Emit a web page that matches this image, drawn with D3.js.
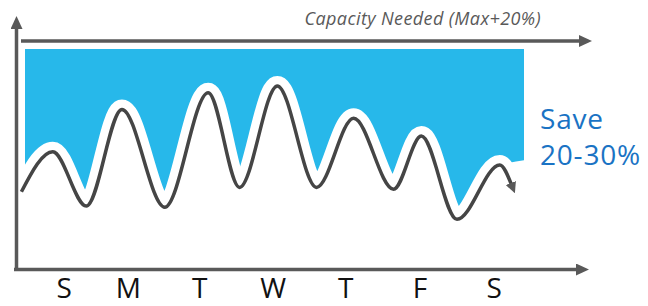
<!DOCTYPE html>
<html>
<head>
<meta charset="utf-8">
<script src="https://cdn.jsdelivr.net/npm/d3@7"></script>
<style>
  html, body { margin: 0; padding: 0; background: #fff; }
  svg { display: block; }
</style>
</head>
<body>
<svg id="chart" width="648" height="306"></svg>
<script>
// days of the week and where each label sits (in days along the time axis)
const dayLabels = ['S', 'M', 'T', 'W', 'T', 'F', 'S'];
const dayTickAt = [0.55, 1.45, 2.45, 3.48, 4.5, 5.54, 6.58];

// load curve: peaks and troughs (t = days, v = % of axis)
const loadT = [-0.05, 0.39, 0.86, 1.36, 1.96, 2.57, 3.01, 3.54, 4.09, 4.61, 5.17, 5.56, 6.06, 6.66, 6.82];
const loadV = [33.9, 51.4, 27.6, 70.0, 27.1, 77.3, 35.8, 80.3, 35.8, 66.1, 35.0, 58.3, 21.8, 45.6, 37.3];

const capacity = 100;
const capacityLabel = 'Capacity Needed (Max+20%)';
const saveLines = ['Save', '20-30%'];

const svg = d3.select('#chart');

const axisColor = '#595959';
const lineColor = '#454545';
const fillColor = '#27b8ea';
const textBlue = '#1a73c4';

const xScale = d3.scaleLinear().domain([0, 7]).range([25, 524]);
const yScale = d3.scaleLinear().domain([0, 100]).range([269, 41]);

const pts = loadT.map((t, i) => ({ t, v: loadV[i] }));

// arrow heads
const defs = svg.append('defs');
function addArrow(id, w, h) {
    defs.append('marker')
        .attr('id', id)
        .attr('markerUnits', 'userSpaceOnUse')
        .attr('viewBox', `0 ${-h / 2} ${w} ${h}`)
        .attr('refX', 1)
        .attr('refY', 0)
        .attr('markerWidth', w)
        .attr('markerHeight', h)
        .attr('orient', 'auto')
        .append('path')
        .attr('d', `M0,${-h / 2}L${w},0L0,${h / 2}Z`)
        .attr('fill', axisColor);
}
addArrow('axisArrow', 13, 12);
addArrow('curveArrow', 11, 11);

defs.append('clipPath')
    .attr('id', 'fillClip')
    .append('rect')
    .attr('x', xScale(0))
    .attr('y', 0)
    .attr('width', xScale(7) - xScale(0))
    .attr('height', 306);

// blue area between the capacity line and the load curve
// (ends flat past the last peak instead of following the arrow down)
const fillPts = pts.slice(0, -1);
const lastPeak = fillPts[fillPts.length - 1];
fillPts.push({ t: 7.3, v: lastPeak.v + 3 });

const area = d3.area()
    .x(d => xScale(d.t))
    .y0(yScale(capacity) + 8)
    .y1(d => yScale(d.v))
    .curve(d3.curveMonotoneX);

svg.append('path')
    .datum(fillPts)
    .attr('clip-path', 'url(#fillClip)')
    .attr('d', area)
    .attr('fill', fillColor);

const line = d3.line()
    .x(d => xScale(d.t))
    .y(d => yScale(d.v))
    .curve(d3.curveMonotoneX);

// white halo under the curve
svg.append('path')
    .datum(pts)
    .attr('d', line)
    .attr('fill', 'none')
    .attr('stroke', '#fff')
    .attr('stroke-width', 20)
    .attr('stroke-linecap', 'round')
    .attr('stroke-linejoin', 'round');

svg.append('path')
    .datum(pts)
    .attr('d', line)
    .attr('fill', 'none')
    .attr('stroke', lineColor)
    .attr('stroke-width', 3.5)
    .attr('marker-end', 'url(#curveArrow)');

// axes
svg.append('line')
    .attr('x1', 16.5).attr('y1', 270.5)
    .attr('x2', 16.5).attr('y2', 28)
    .attr('stroke', axisColor)
    .attr('stroke-width', 3.5)
    .attr('marker-end', 'url(#axisArrow)');

svg.append('line')
    .attr('x1', 14).attr('y1', yScale(0) + 0.5)
    .attr('x2', 577).attr('y2', yScale(0) + 0.5)
    .attr('stroke', axisColor)
    .attr('stroke-width', 3.5)
    .attr('marker-end', 'url(#axisArrow)');

svg.append('line')
    .attr('x1', 21).attr('y1', yScale(capacity))
    .attr('x2', 580).attr('y2', yScale(capacity))
    .attr('stroke', axisColor)
    .attr('stroke-width', 3.5)
    .attr('marker-end', 'url(#axisArrow)');

svg.append('text')
    .attr('x', 541)
    .attr('y', 25)
    .attr('text-anchor', 'end')
    .attr('font-family', "'Open Sans', sans-serif")
    .attr('font-style', 'italic')
    .attr('font-size', 18)
    .attr('letter-spacing', 0.4)
    .attr('fill', axisColor)
    .text(capacityLabel);

svg.selectAll('text.day')
    .data(dayLabels)
    .join('text')
    .attr('class', 'day')
    .attr('x', (d, i) => xScale(dayTickAt[i]))
    .attr('y', 298)
    .attr('text-anchor', 'middle')
    .attr('font-family', "'Open Sans', sans-serif")
    .attr('font-size', 28)
    .attr('fill', '#111')
    .text(d => d);

svg.selectAll('text.save')
    .data(saveLines)
    .join('text')
    .attr('class', 'save')
    .attr('x', 540)
    .attr('y', (d, i) => 129 + i * 36)
    .attr('font-family', "'Open Sans', sans-serif")
    .attr('font-size', 28)
    .attr('letter-spacing', 0.8)
    .attr('fill', textBlue)
    .text(d => d);
</script>
</body>
</html>
